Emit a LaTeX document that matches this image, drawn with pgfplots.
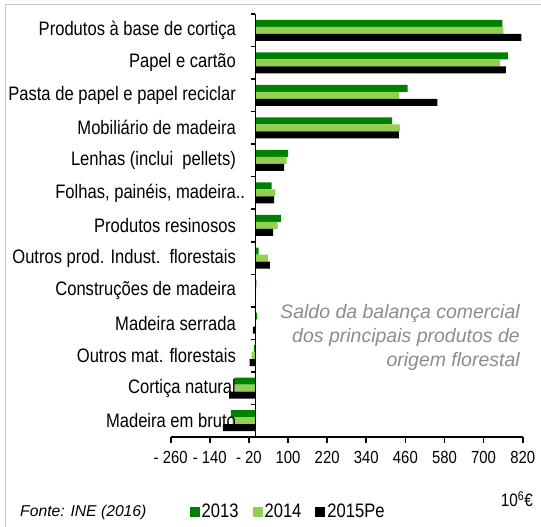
\documentclass[border=0pt]{standalone}
\usepackage{fontspec}
\setmainfont{Liberation Sans}
\newfontfamily\narrow[FakeStretch=0.85]{Liberation Sans}
\usepackage{pgfplots}
\usepackage{pgfplotstable}
\pgfplotsset{compat=1.18}
\definecolor{g13}{HTML}{008000}
\definecolor{g14}{HTML}{92D050}
\definecolor{anngray}{HTML}{8C8C8C}

% saldo (10^6 EUR), pos 12 = top category
\pgfplotstableread{
pos v13 v14 v15
12 758 761 816
11 775 751 768
10 467 441 558
9 419 444 440
8 100 96 88
7 50 61 57
6 78 68 54
5 10 38 44
4 3 2 1
3 5 2 -8
2 -5 -12 -18
1 -65 -63 -81
0 -75 -71 -100
}\saldo

\begin{document}
\begin{tikzpicture}
\path[use as bounding box] (0,0) rectangle (541bp,527bp);
\draw[gray!45, line width=1bp] (5bp,-2bp) -- (5bp,522bp) -- (545bp,522bp);

\begin{axis}[
    at={(170.7bp,90bp)}, anchor=south west,
    scale only axis, width=352bp, height=423bp,
    xbar, bar width=7bp,
    xmin=-260, xmax=820, ymin=-0.5, ymax=12.5,
    axis x line=bottom, axis y line=middle,
    axis line style={-, line width=1.6bp, black},
    axis on top,
    tick align=outside,
    major tick length=6bp,
    x tick style={line width=1.6bp, black},
    xtick={-260,-140,...,820},
    xticklabels={- 260,- 140,- 20,100,220,340,460,580,700,820},
    xticklabel style={font=\narrow\fontsize{17.5bp}{19bp}\selectfont, yshift=-5bp},
    ytick={0,...,12},
    y tick style={draw=none},
    yticklabels={Madeira em bruto, Cortiça natural\ , Outros mat. florestais,
      Madeira serrada, Construções de madeira\ , Outros prod. Indust.\ \ florestais,
      Produtos resinosos, {Folhas, painéis, madeira\rlap{..}}, Lenhas (inclui\ \ pellets),
      Mobiliário de madeira\ , Pasta de papel e papel reciclar, Papel e cartão\ ,
      Produtos à base de cortiça\ },
    yticklabel style={font=\narrow\fontsize{19.5bp}{21bp}\selectfont, xshift=-10bp},
    extra y ticks={-0.5,0.5,...,12.5},
    extra y tick labels={},
    extra y tick style={major tick length=4bp, y tick style={draw=black, line width=1.6bp}},
    legend columns=3,
    legend image code/.code={\fill[#1] (0bp,-5bp) rectangle (10bp,5bp);},
    legend style={at={(axis description cs:0.045,-0.177)}, anchor=west, draw=none,
      fill=none, font=\narrow\fontsize{19.5bp}{21bp}\selectfont,
      /tikz/every even column/.append style={column sep=12bp}},
]
\addplot[fill=g13, draw=none, bar shift=7bp] table[x=v13, y=pos] {\saldo};
\addplot[fill=g14, draw=none, bar shift=0bp] table[x=v14, y=pos] {\saldo};
\addplot[fill=black, draw=none, bar shift=-7bp] table[x=v15, y=pos] {\saldo};
\legend{2013,2014,2015Pe}
\end{axis}

\node[anchor=east, inner sep=0, align=right, text=anngray,
  font=\fontsize{19.5bp}{24bp}\selectfont\itshape] at (520bp,190bp)
  {Saldo da balança comercial\\dos principais produtos de\\origem florestal};
\node[anchor=west, inner sep=0, font=\fontsize{15.7bp}{18bp}\selectfont\itshape]
  at (20bp,15bp) {Fonte: INE (2016)};
\node[anchor=east, inner sep=0, font=\narrow\fontsize{18bp}{20bp}\selectfont]
  at (533bp,28bp) {10\textsuperscript{6}€};
\end{tikzpicture}
\end{document}
